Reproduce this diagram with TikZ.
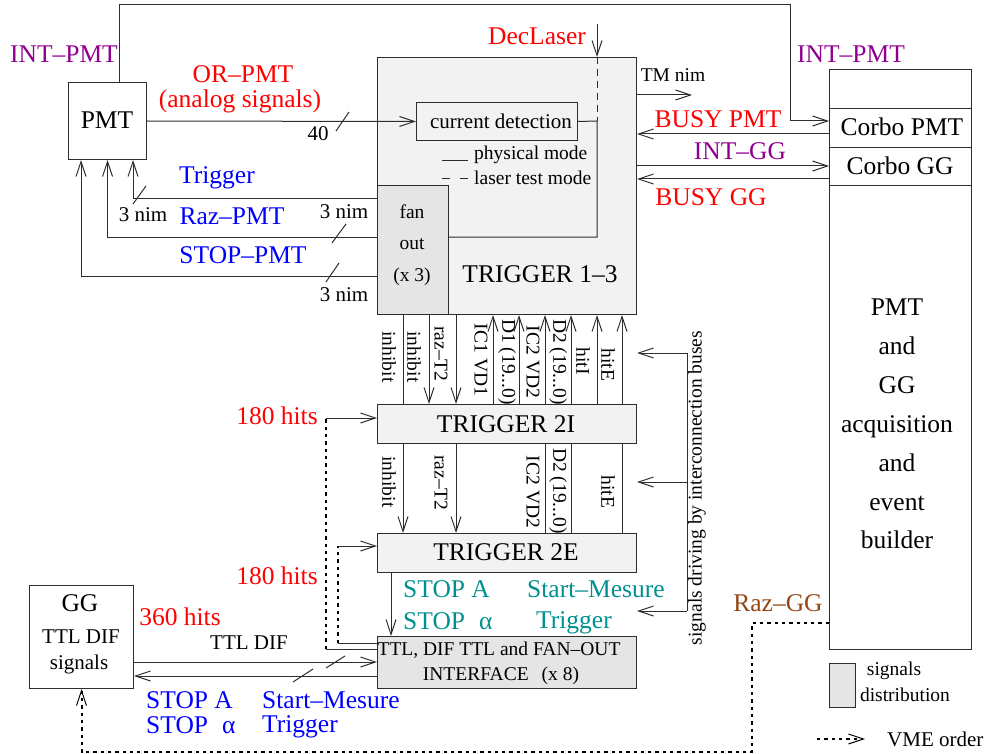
\documentclass[tikz,border=0pt]{standalone}
\usepackage{fontspec}
\setmainfont{Liberation Serif}
\usetikzlibrary{arrows.meta}
\definecolor{fgline}{RGB}{45,45,45}
\definecolor{cpurple}{RGB}{144,0,144}
\definecolor{cred}{RGB}{255,0,0}
\definecolor{cblue}{RGB}{0,0,255}
\definecolor{cteal}{RGB}{0,144,144}
\definecolor{cbrown}{RGB}{150,70,20}
\definecolor{fillA}{RGB}{242,242,242}
\definecolor{fillB}{RGB}{229,229,229}
\begin{document}
\begin{tikzpicture}[x=1pt,y=-1pt,
  ln/.style={draw=fgline, line width=1pt},
  box/.style={ln, inner sep=0pt, anchor=north west},
  arr/.style={ln, -{Straight Barb[length=15pt,width=10pt,line width=1pt]}},
  vdot/.style={draw=black, line width=2pt, dash pattern=on 3.3pt off 4pt},
  dotarr/.style={vdot, -{Straight Barb[length=15pt,width=10pt,line width=1pt]}},
  big/.style={font=\fontsize{25.5}{30}\selectfont, inner sep=0pt},
  mid/.style={font=\fontsize{21}{25}\selectfont, inner sep=0pt},
  sml/.style={font=\fontsize{19.5}{23}\selectfont, inner sep=0pt},
  vlab/.style={sml, rotate=-90},
]
\useasboundingbox (0,0) rectangle (987,754);

% ---------- boxes ----------
\node[box, minimum width=78pt, minimum height=77pt] (pmt) at (68,82) {};
\node[big] (pmttxt) at (107,120) {PMT};
\node[box, fill=fillA, minimum width=259pt, minimum height=257pt] (t13) at (377,57) {};
\node[box, fill=fillB, minimum width=71pt, minimum height=129pt] (fan) at (377,185) {};
\node[box, fill=fillA, minimum width=161pt, minimum height=38pt] (cd) at (416,102) {};
\node[mid] (cdtxt) at (501,121) {current detection};
\node[box, fill=fillA, minimum width=259pt, minimum height=39pt] (t2i) at (377,404) {};
\node[big] (t2itxt) at (506,424) {TRIGGER 2I};
\node[box, fill=fillA, minimum width=259pt, minimum height=39pt] (t2e) at (377,533) {};
\node[big] (t2etxt) at (506,552) {TRIGGER 2E};
\node[box, fill=fillB, minimum width=259pt, minimum height=52pt] (intf) at (377,636) {};
\node[sml] (intf1) at (499,650) {TTL, DIF TTL and FAN–OUT};
\node[sml] (intf2) at (501,676) {INTERFACE\hspace{13pt}(x 8)};
\node[box, minimum width=104pt, minimum height=103pt] (gg) at (29,585) {};
\node[big] (ggtxt) at (80,603) {GG};
\node[mid] (ggtxt2) at (81,637) {TTL DIF};
\node[mid] (ggtxt3) at (79,664) {signals};
\node[box, minimum width=142pt, minimum height=580pt] (acq) at (829,69) {};
\node[box, minimum width=142pt, minimum height=39pt] (corbopmt) at (829,108) {};
\node[big] (cptxt) at (902,127) {Corbo PMT};
\node[box, minimum width=142pt, minimum height=38pt] (corbogg) at (829,147) {};
\node[big] (cgtxt) at (900,166) {Corbo GG};
\node[font=\fontsize{25.5}{38.9}\selectfont, inner sep=0pt, align=center] (acqtxt) at (897,424)
  {PMT\\and\\GG\\acquisition\\and\\event\\builder};
\node[box, fill=fillB, minimum width=26pt, minimum height=44pt] (legbox) at (829,663) {};

% ---------- inside trigger 1-3 ----------
\node[sml] (fan1) at (412,212) {fan};
\node[sml] (fan2) at (412,244) {out};
\node[sml] (fan3) at (412,277) {(x 3)};
\node[big] (t13txt) at (540,274) {TRIGGER 1–3};
\coordinate (leg1a) at (442,161);
\coordinate (leg1b) at (468,161);
\coordinate (leg2a) at (442,179);
\coordinate (leg2b) at (468,179);
\draw[ln] (leg1a) -- (leg1b);
\draw[ln, dash pattern=on 8pt off 10pt] (leg2a) -- (leg2b);
\node[sml, anchor=base west] (legt1) at (474,160) {physical mode};
\node[sml, anchor=base west] (legt2) at (474,185) {laser test mode};

% current detection output and laser
\coordinate (cdbend) at (597,121);
\draw[ln] (cd.east) -- (cdbend) |- (fan.east |- 0,237);
\coordinate (dl) at (597,24);
\draw[arr] (dl) -- (597,0 |- t13.north);
\draw[ln, dash pattern=on 7pt off 5pt] (597,0 |- t13.north) -- (cdbend);
\node[big, text=cred] (dltxt) at (537,36) {DecLaser};

% ---------- PMT connections ----------
\coordinate (topL) at (119,5);
\coordinate (topR) at (790,121);
\draw[arr] (pmt.north -| topL) -- (topL) -| (topR) -- (corbopmt.west |- topR);
\node[big, text=cpurple] (ipl) at (64,54) {INT–PMT};
\node[big, text=cpurple] (ipr) at (851,54) {INT–PMT};

\draw[arr] (pmt.east) -- (cd.west);
\draw[ln] (336,131) -- (349,112);
\node[mid] (n40) at (318,134) {40};
\node[big, text=cred] (orp) at (243,74) {OR–PMT};
\node[big, text=cred] (ana) at (240,101) {(analog signals)};

\draw[arr] (fan.west |- 0,198) -| (133,0 |- pmt.south);
\draw[arr] (fan.west |- 0,237) -| (pmt.south);
\draw[arr] (fan.west |- 0,276) -| (81,0 |- pmt.south);
\draw[ln] (133,204) -- (146,186);
\draw[ln] (332,243) -- (346,224);
\draw[ln] (326,282) -- (339,263);
\node[mid] (nim1) at (143,215) {3 nim};
\node[mid] (nim2) at (344,212) {3 nim};
\node[mid] (nim3) at (344,295) {3 nim};
\node[big, text=cblue] (trg) at (217,178) {Trigger};
\node[big, text=cblue] (razp) at (232,216) {Raz–PMT};
\node[big, text=cblue] (stopp) at (243,255) {STOP–PMT};

% ---------- right side connections ----------
\coordinate (tm) at (692,95);
\draw[arr] (t13.east |- tm) -- (tm);
\node[sml] (tmtxt) at (673,75) {TM nim};
\draw[arr] (corbopmt.west |- 0,134) -- (t13.east |- 0,134);
\draw[arr] (t13.east |- 0,166) -- (corbogg.west |- 0,166);
\draw[arr] (corbogg.west |- 0,179) -- (t13.east |- 0,179);
\node[big, text=cred] (bpmt) at (718,119) {BUSY PMT};
\node[big, text=cpurple] (igg) at (740,151) {INT–GG};
\node[big, text=cred] (bgg) at (711,197) {BUSY GG};

% ---------- T1-3 <-> T2I ----------
\draw[ln] (403,0 |- t13.south) -- (403,0 |- t2i.north);
\draw[arr] (429,0 |- t13.south) -- (429,0 |- t2i.north);
\draw[arr] (456,0 |- t13.south) -- (456,0 |- t2i.north);
\foreach \xx in {493,519,545,571,597,622}
  \draw[arr] (\xx,0 |- t2i.north) -- (\xx,0 |- t13.south);
\node[vlab] (l1) at (389,357) {inhibit};
\node[vlab] (l2) at (414,357) {inhibit};
\node[vlab] (l3) at (441,354) {raz–T2};
\node[vlab] (l4) at (481,360) {IC1 VD1};
\node[vlab] (l5) at (507,362) {D1 (19...0)};
\node[vlab] (l6) at (533,362) {IC2 VD2};
\node[vlab] (l7) at (558,362) {D2 (19...0)};
\node[vlab] (l8) at (583,361) {hitI};
\node[vlab] (l9) at (608,365) {hitE};

% ---------- T2I <-> T2E ----------
\draw[arr] (403,0 |- t2i.south) -- (403,0 |- t2e.north);
\draw[arr] (456,0 |- t2i.south) -- (456,0 |- t2e.north);
\foreach \xx in {545,571,622}
  \draw[ln] (\xx,0 |- t2e.north) -- (\xx,0 |- t2i.south);
\node[vlab] (m1) at (389,482) {inhibit};
\node[vlab] (m2) at (441,483) {raz–T2};
\node[vlab] (m3) at (533,492) {IC2 VD2};
\node[vlab] (m4) at (558,491) {D2 (19...0)};
\node[vlab] (m5) at (608,492) {hitE};

% ---------- interconnection buses ----------
\coordinate (bus1) at (687,353);
\coordinate (bus2) at (687,482);
\coordinate (bus3) at (687,611);
\draw[ln] (bus1) -- (bus3);
\draw[arr] (bus1) -- (t2i.east |- bus1);
\draw[arr] (bus2) -- (t2i.east |- bus2);
\draw[arr] (bus3) -- (t2i.east |- bus3);
\node[sml, rotate=90] (bustxt) at (697,488) {signals driving by interconnection buses};

% ---------- T2E -> interface ----------
\draw[arr] (391,0 |- t2e.south) -- (391,0 |- intf.north);
\node[big, text=cteal, anchor=west] (ta1) at (403,589) {STOP A};
\node[big, text=cteal, anchor=west] (ta2) at (527,589) {Start–Mesure};
\node[big, text=cteal, anchor=west] (ta3) at (403,621) {STOP\hspace{14pt}α};
\node[big, text=cteal, anchor=west] (ta4) at (536,623) {Trigger};

% ---------- 180 hits ----------
\coordinate (h1a) at (326,649);
\coordinate (h1b) at (326,418);
\coordinate (h2a) at (338,643);
\coordinate (h2b) at (338,546);
\draw[ln] (intf.west |- h1a) -- (h1a);
\draw[vdot] (h1a) -- (h1b);
\draw[arr] (h1b) -- (t2i.west |- h1b);
\draw[ln] (intf.west |- h2a) -- (h2a);
\draw[vdot] (h2a) -- (h2b);
\draw[arr] (h2b) -- (t2e.west |- h2b);
\node[big, text=cred] (h180a) at (277,416) {180 hits};
\node[big, text=cred] (h180b) at (277,576) {180 hits};

% ---------- GG <-> interface ----------
\draw[arr] (gg.east |- 0,662) -- (intf.west |- 0,662);
\draw[arr] (intf.west |- 0,676) -- (gg.east |- 0,676);
\draw[ln] (326,668) -- (345,656);
\draw[ln] (293,682) -- (313,669);
\node[mid] (ttld) at (249,643) {TTL DIF};
\node[big, text=cred] (h360) at (180,617) {360 hits};
\node[big, text=cblue, anchor=west] (ba1) at (146,700) {STOP A};
\node[big, text=cblue, anchor=west] (ba2) at (262,700) {Start–Mesure};
\node[big, text=cblue, anchor=west] (ba3) at (146,725) {STOP\hspace{14pt}α};
\node[big, text=cblue, anchor=west] (ba4) at (262,727) {Trigger};

% ---------- VME order Raz-GG ----------
\coordinate (v1) at (752,752);
\draw[dotarr] (acq.west |- 0,623) -| (v1) -| (gg.south);
\node[big, text=cbrown] (razgg) at (778,603) {Raz–GG};

% ---------- legend ----------
\node[sml] (lg1) at (894,671) {signals};
\node[sml] (lg2) at (905,695) {distribution};
\coordinate (vmeA) at (817,739);
\coordinate (vmeB) at (865,739);
\draw[dotarr] (vmeA) -- (vmeB);
\node[mid, anchor=west] (vmet) at (887,739) {VME order};
\end{tikzpicture}
\end{document}
